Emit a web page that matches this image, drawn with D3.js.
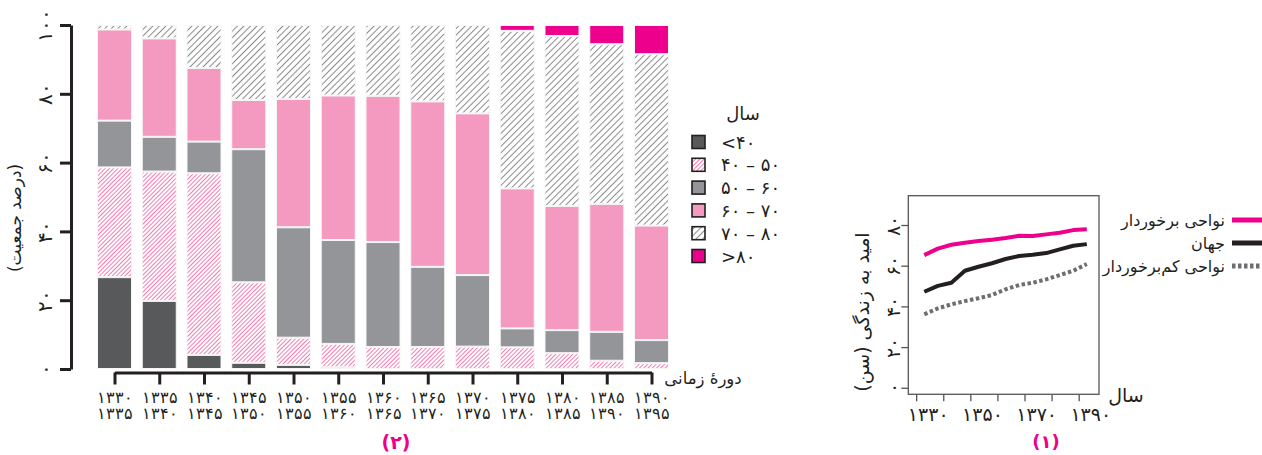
<!DOCTYPE html>
<html><head><meta charset="utf-8">
<script src="https://cdn.jsdelivr.net/npm/d3@7"></script>
<style>
html,body{margin:0;padding:0;background:#fff;}
svg{display:block;font-family:"DejaVu Sans",sans-serif;}
</style></head>
<body>
<svg id="c" width="1262" height="455"></svg>
<script>
// ---------- DATA: chart (2) stacked bars ----------
const periodStart = ["۱۳۳۰","۱۳۳۵","۱۳۴۰","۱۳۴۵","۱۳۵۰","۱۳۵۵","۱۳۶۰","۱۳۶۵","۱۳۷۰","۱۳۷۵","۱۳۸۰","۱۳۸۵","۱۳۹۰"];
const periodEnd   = ["۱۳۳۵","۱۳۴۰","۱۳۴۵","۱۳۵۰","۱۳۵۵","۱۳۶۰","۱۳۶۵","۱۳۷۰","۱۳۷۵","۱۳۸۰","۱۳۸۵","۱۳۹۰","۱۳۹۵"];
const ageLt40  = [26.7,19.8, 4.1, 1.8, 1.2, 0.5, 0.0, 0.0, 0.0, 0.0, 0.0, 0.0, 0.0];
const age40_50 = [31.9,37.6,52.8,23.4, 7.9, 6.8, 6.4, 6.4, 6.5, 6.3, 4.6, 2.4, 1.7];
const age50_60 = [13.6,10.1, 9.2,38.7,32.1,30.2,30.5,23.3,20.8, 5.5, 6.7, 8.4, 6.7];
const age60_70 = [26.5,28.6,21.4,14.3,37.3,42.0,42.5,48.1,47.0,40.7,36.1,37.2,33.3];
const age70_80 = [ 1.3, 3.9,12.5,21.8,21.5,20.5,20.6,22.2,25.7,45.8,49.4,46.4,49.8];
const ageGt80  = [ 0.0, 0.0, 0.0, 0.0, 0.0, 0.0, 0.0, 0.0, 0.0, 1.7, 3.2, 5.6, 8.5];
const ageLabels = ["<۴۰","۴۰ – ۵۰","۵۰ – ۶۰","۶۰ – ۷۰","۷۰ – ۸۰",">۸۰"];
const barYTicks = [0,20,40,60,80,100];
const barYTickLabels = ["۰","۲۰","۴۰","۶۰","۸۰","۱۰۰"];

// ---------- DATA: chart (1) life expectancy ----------
const years = [1330,1335,1340,1345,1350,1355,1360,1365,1370,1375,1380,1385,1390];
const developed   = [65.2,68.4,70.3,71.3,72.1,72.8,73.6,74.7,74.6,75.4,76.2,77.5,77.9];
const world       = [47.2,50.1,51.6,57.5,59.5,61.2,63.3,64.8,65.4,66.2,68.0,69.8,70.6];
const lessDeveloped = [36.1,39.0,41.0,42.6,44.0,45.6,48.4,50.5,51.6,53.3,55.4,57.5,60.8];
const lineYTicks = [0,20,40,60,80];
const lineYTickLabels = ["۰","۲۰","۴۰","۶۰","۸۰"];
const lineXTicks = [1327,1337,1347,1357,1367,1377,1387];
const lineXLabelYears = [1330,1350,1370,1390];
const lineXLabels = ["۱۳۳۰","۱۳۵۰","۱۳۷۰","۱۳۹۰"];
const lineNames = ["نواحی برخوردار","جهان","نواحی کم\u200cبرخوردار"];

// ---------- STYLE ----------
const C = {dark:"#58595b", gray:"#939598", pink:"#f49ac1", magenta:"#ec008c"};
const svg = d3.select("#c");
const defs = svg.append("defs");
function hatch(id, color, gap, w){
  const p = defs.append("pattern").attr("id",id).attr("patternUnits","userSpaceOnUse")
    .attr("width",gap).attr("height",gap).attr("patternTransform","rotate(45)");
  p.append("rect").attr("width",gap).attr("height",gap).attr("fill","#fff");
  p.append("line").attr("x1",gap/2).attr("x2",gap/2).attr("y1",0).attr("y2",gap)
    .attr("stroke",color).attr("stroke-width",w);
}
hatch("hp","#f27cb2",3,1);
hatch("hg","#8a8a8a",4.6,1);
const fills = [C.dark,"url(#hp)",C.gray,C.pink,"url(#hg)",C.magenta];

// ---------- CHART (2) ----------
const series = [ageLt40,age40_50,age50_60,age60_70,age70_80,ageGt80];
const rows = periodStart.map((p,i)=>{const o={key:i}; series.forEach((s,k)=>o[k]=s[i]); return o;});
const stack = d3.stack().keys(d3.range(series.length))(rows);

const xB = d3.scalePoint().domain(d3.range(periodStart.length)).range([114.5,651.5]);
const bw = xB.step()*0.76;
const yB = d3.scaleLinear().domain([0,100]).range([369,25]);

const gBars = svg.append("g");
stack.forEach((layer,k)=>{
  gBars.selectAll(null).data(layer).join("rect")
    .attr("x",d=>xB(d.data.key)-bw/2)
    .attr("width",bw)
    .attr("y",d=>yB(d[1])+0.5)
    .attr("height",d=>Math.max(0,yB(d[0])-yB(d[1])-1))
    .attr("fill",fills[k])
    .attr("stroke","#f6f6f6").attr("stroke-width",d=>(d[1]-d[0])>0?1:0);
});

// y axis
const yAx = svg.append("g").attr("transform","translate(71,0)")
  .call(d3.axisLeft(yB).tickValues(barYTicks).tickSize(11).tickSizeOuter(0)
    .tickFormat((d,i)=>barYTickLabels[i]));
yAx.select(".domain").attr("stroke","#231f20").attr("stroke-width",3);
yAx.selectAll(".tick line").attr("stroke","#231f20").attr("stroke-width",3);
yAx.selectAll(".tick text").attr("x",null).attr("dy",null)
  .attr("transform","translate(-26,0) rotate(-90)")
  .attr("text-anchor","middle").attr("dominant-baseline","central")
  .attr("font-size",20).attr("fill","#231f20");
svg.append("text").attr("transform","translate(15,218) rotate(-90)")
  .attr("direction","rtl").attr("text-anchor","middle").attr("dominant-baseline","central")
  .attr("font-size",17).attr("fill","#231f20").text("(درصد جمعیت)");

// x axis
const xAx = svg.append("g").attr("transform","translate(0,372.5)")
  .call(d3.axisBottom(xB).tickSize(12).tickSizeOuter(0).tickFormat(""));
xAx.select(".domain").attr("stroke","#231f20").attr("stroke-width",3);
xAx.selectAll(".tick line").attr("stroke","#231f20").attr("stroke-width",3);
const xl = xAx.selectAll(".tick").append("text").attr("fill","#231f20")
  .attr("font-size",15.5).attr("text-anchor","middle");
xl.append("tspan").attr("x",0).attr("y",30).text(d=>periodStart[d]);
xl.append("tspan").attr("x",0).attr("y",46).text(d=>periodEnd[d]);
svg.append("text").attr("x",703).attr("y",378).attr("direction","rtl")
  .attr("text-anchor","middle").attr("dominant-baseline","central")
  .attr("font-size",16.5).attr("fill","#231f20").text("دورهٔ زمانی");
svg.append("text").attr("x",396).attr("y",442).attr("text-anchor","middle")
  .attr("dominant-baseline","central").attr("font-size",19).attr("font-weight","bold")
  .attr("fill",C.magenta).text("(۲)");

// legend
svg.append("text").attr("x",743).attr("y",113).attr("text-anchor","middle")
  .attr("dominant-baseline","central").attr("font-size",18).attr("fill","#231f20").text("سال");
const lg = svg.append("g").selectAll("g").data(ageLabels).join("g")
  .attr("transform",(d,i)=>`translate(692,${142+i*22.8})`);
lg.append("rect").attr("x",0).attr("y",-6.5).attr("width",13).attr("height",13)
  .attr("fill",(d,i)=>fills[i]).attr("stroke","#231f20").attr("stroke-width",1.6);
lg.append("text").attr("x",29).attr("dominant-baseline","central").attr("direction","ltr")
  .attr("font-size",18).attr("fill","#231f20").attr("xml:space","preserve").text(d=>d);

// ---------- CHART (1) ----------
const xL = d3.scaleLinear().domain([1324.1,1394.5]).range([908.3,1099]);
const yL = d3.scaleLinear().domain([-3.2,94.4]).range([394.3,195.7]);
svg.append("rect").attr("x",xL.range()[0]).attr("y",yL.range()[1])
  .attr("width",xL.range()[1]-xL.range()[0]).attr("height",yL.range()[0]-yL.range()[1])
  .attr("fill","none").attr("stroke","#555").attr("stroke-width",1.3);

const lyAx = svg.append("g").attr("transform",`translate(${xL.range()[0]},0)`)
  .call(d3.axisLeft(yL).tickValues(lineYTicks).tickSize(7).tickSizeOuter(0)
    .tickFormat((d,i)=>lineYTickLabels[i]));
lyAx.select(".domain").remove();
lyAx.selectAll(".tick line").attr("stroke","#555").attr("stroke-width",1.3);
lyAx.selectAll(".tick text").attr("x",null).attr("dy",null)
  .attr("transform","translate(-15,0) rotate(-90)")
  .attr("text-anchor","middle").attr("dominant-baseline","central")
  .attr("font-size",19).attr("fill","#231f20");
svg.append("text").attr("transform","translate(862,312) rotate(-90)")
  .attr("direction","rtl").attr("text-anchor","middle").attr("dominant-baseline","central")
  .attr("font-size",19).attr("fill","#231f20").text("امید به زندگی (سن)");

const lxAx = svg.append("g").attr("transform",`translate(0,${yL.range()[0]})`)
  .call(d3.axisBottom(xL).tickValues(lineXTicks).tickSize(7).tickSizeOuter(0).tickFormat(""));
lxAx.select(".domain").remove();
lxAx.selectAll(".tick line").attr("stroke","#555").attr("stroke-width",1.3);
svg.append("g").selectAll("text").data(lineXLabelYears).join("text")
  .attr("x",d=>xL(d)+4).attr("y",414).attr("text-anchor","middle")
  .attr("dominant-baseline","central").attr("font-size",19).attr("fill","#231f20")
  .text((d,i)=>lineXLabels[i]);
svg.append("text").attr("x",1126).attr("y",395).attr("text-anchor","middle")
  .attr("dominant-baseline","central").attr("font-size",19).attr("fill","#231f20").text("سال");
svg.append("text").attr("x",1046).attr("y",441).attr("text-anchor","middle")
  .attr("dominant-baseline","central").attr("font-size",18).attr("font-weight","bold")
  .attr("fill",C.magenta).text("(۱)");

const lineStyles = [
  {data:developed, color:C.magenta, dash:null},
  {data:world, color:"#231f20", dash:null},
  {data:lessDeveloped, color:"#6d6e71", dash:"3.5,2.5"}
];
const lineGen = d3.line().x((d,i)=>xL(years[i])).y(d=>yL(d));
lineStyles.forEach(s=>{
  svg.append("path").attr("d",lineGen(s.data)).attr("fill","none")
    .attr("stroke",s.color).attr("stroke-width",4).attr("stroke-dasharray",s.dash)
    .attr("stroke-linejoin","round");
});
// right legend
const rl = svg.append("g").selectAll("g").data(lineNames).join("g")
  .attr("transform",(d,i)=>`translate(0,${220+i*23})`);
rl.append("line").attr("x1",1232).attr("x2",1262).attr("y1",0).attr("y2",0)
  .attr("stroke",(d,i)=>lineStyles[i].color).attr("stroke-width",5)
  .attr("stroke-dasharray",(d,i)=>lineStyles[i].dash);
rl.append("text").attr("x",1225).attr("text-anchor","end").attr("dominant-baseline","central")
  .attr("font-size",16).attr("fill","#231f20").text(d=>d);
</script>
</body></html>
